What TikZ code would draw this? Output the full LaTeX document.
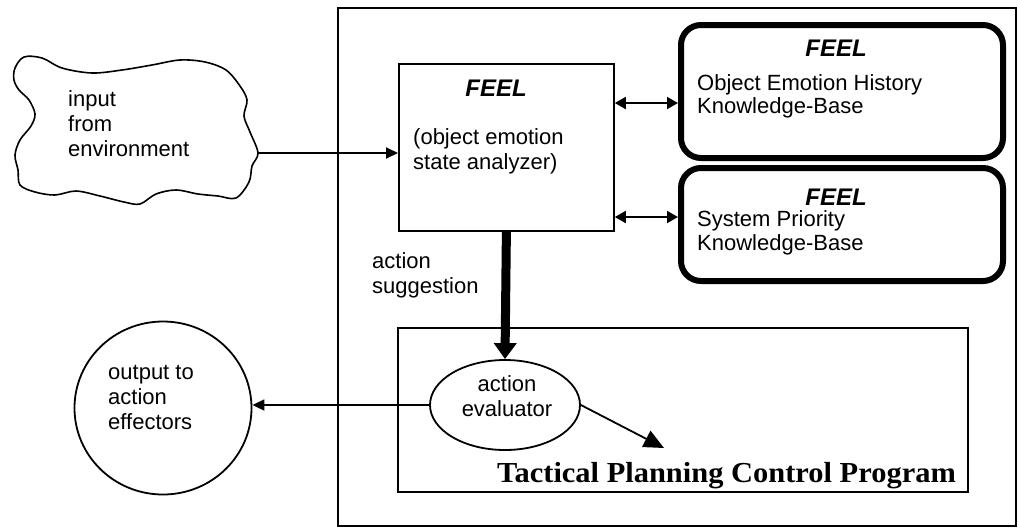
\documentclass[tikz,border=0pt]{standalone}
\usepackage{fontspec}
\setmainfont{Liberation Sans}
\newfontfamily\tacfont[FakeStretch=1.05]{Liberation Serif}
\usetikzlibrary{arrows.meta,shapes.geometric}
\begin{document}
\begin{tikzpicture}[x=1pt,y=-1pt,
  txt/.style={font=\fontsize{22}{25}\selectfont, align=left, inner sep=0pt},
  feeltitle/.style={font=\fontsize{24}{26}\selectfont\bfseries\itshape, inner sep=0pt},
  plainbox/.style={draw, line width=1.8pt, inner sep=0pt, anchor=north west},
  kbbox/.style={draw, line width=6pt, rounded corners=20pt, inner sep=0pt, anchor=north west},
  oval/.style={draw, ellipse, line width=1.8pt, inner sep=0pt},
  conn/.style={line width=1.8pt},
  tipa/.style={conn, -{Triangle[length=12pt,width=11pt]}},
  dbl/.style={conn, {Triangle[length=11pt,width=12pt]}-{Triangle[length=11pt,width=12pt]}},
  bigtip/.style={line width=9pt, -{Triangle[length=16pt,width=22pt]}},
  diagtip/.style={conn, -{Triangle[length=20pt,width=18pt]}}
]
\useasboundingbox (0,0) rectangle (1020,531);
% containers
\node[plainbox, minimum width=678pt, minimum height=518pt] (outer) at (337,7) {};
\node[plainbox, minimum width=570pt, minimum height=164pt] (tpc) at (397,327) {};
\node[anchor=east, inner sep=0pt, font=\fontsize{29}{30}\tacfont\bfseries] (tpclabel) at (956,476) {Tactical Planning Control Program};
% FEEL analyzer
\node[plainbox, minimum width=215pt, minimum height=167pt] (feelbox) at (398,63) {};
\node[feeltitle] (feel1) at (496,88) {FEEL};
\node[txt, anchor=west] (feeltxt) at (413,151) {(object emotion\\ state analyzer)};
% knowledge bases
\node[kbbox, minimum width=322pt, minimum height=133pt] (kb1) at (678,22) {};
\node[feeltitle] (feel2) at (836,48) {FEEL};
\node[txt, anchor=west, font=\fontsize{22}{23}\selectfont] (kb1txt) at (697,96) {Object Emotion History\\Knowledge-Base};
\node[kbbox, minimum width=322pt, minimum height=113pt] (kb2) at (678,165) {};
\node[feeltitle] (feel3) at (836,197) {FEEL};
\node[txt, anchor=west, font=\fontsize{22}{24}\selectfont] (kb2txt) at (697,233) {System Priority\\Knowledge-Base};
% cloud
\draw[line width=1.6pt] plot[smooth cycle, tension=0.55] coordinates {
 (15,68) (24,57) (42,58) (62,68) (92,73) (122,70) (152,65) (180,60) (205,62) (226,70) (240,86)
 (247,100) (244,116) (250,132) (258,153) (252,166) (249,182) (236,198) (218,196) (198,194)
 (176,190) (156,194) (140,204) (124,202) (100,196) (76,191) (55,195) (35,192) (20,185)
 (18,170) (15,155) (20,140) (31,126) (35,114) (29,100) (19,90) (14,80)};
\coordinate (cloudtip) at (258,153);
\node[txt, anchor=west] (cloudtxt) at (68,124) {input\\from\\environment};
% action evaluator and output
\node[oval, minimum width=150pt, minimum height=90pt] (eval) at (505,405) {};
\node[txt, align=center] (evaltxt) at (507,396) {action\\evaluator};
\node[oval, minimum width=177pt, minimum height=173pt] (out) at (163,408) {};
\node[txt, anchor=west] (outtxt) at (108,397) {output to\\action\\effectors};
\node[txt, anchor=west] (sugg) at (372,275) {action\\suggestion};
% connectors
\coordinate (ya) at (0,103);
\coordinate (yb) at (0,217);
\coordinate (diagend) at (664,448);
\draw[tipa] (cloudtip) -- (cloudtip -| feelbox.west);
\draw[dbl] (feelbox.east |- ya) -- (kb1.west |- ya);
\draw[dbl] (feelbox.east |- yb) -- (kb2.west |- yb);
\draw[bigtip] (feelbox.south) -- (eval.north);
\draw[tipa] (eval.west) -- (eval.west -| out.east);
\draw[diagtip] (eval.east) -- (diagend);
\end{tikzpicture}
\end{document}
